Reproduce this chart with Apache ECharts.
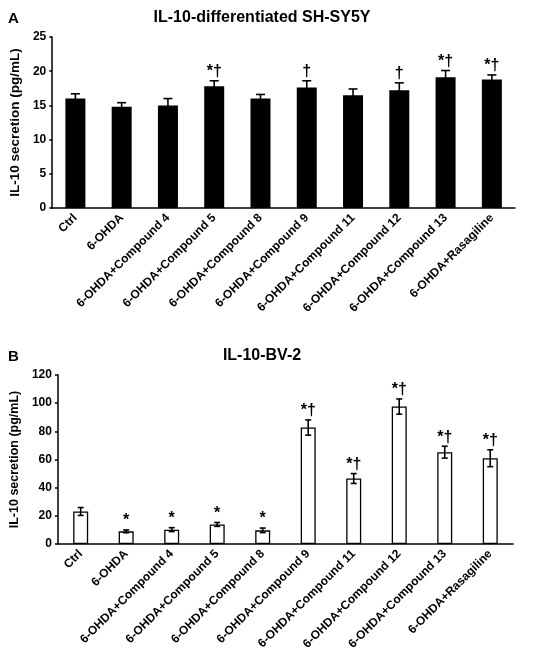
<!DOCTYPE html>
<html>
<head>
<meta charset="utf-8">
<script src="https://cdn.jsdelivr.net/npm/echarts@6/dist/echarts.min.js"></script>
<style>
  html, body { margin: 0; padding: 0; background: #fff; }
  #chart { width: 550px; height: 668px; }
</style>
</head>
<body>
<div id="chart"></div>
<script>
// groups, same for both panels
const groups = ['Ctrl', '6-OHDA', '6-OHDA+Compound 4', '6-OHDA+Compound 5', '6-OHDA+Compound 8',
  '6-OHDA+Compound 9', '6-OHDA+Compound 11', '6-OHDA+Compound 12', '6-OHDA+Compound 13', '6-OHDA+Rasagiline'];

// panel A: IL-10 in differentiated SH-SY5Y
const shsy5y_mean = [16.0, 14.8, 15.0, 17.8, 16.0, 17.6, 16.5, 17.2, 19.1, 18.8];
const shsy5y_err  = [0.7, 0.6, 1.0, 0.8, 0.6, 1.0, 0.9, 1.1, 1.0, 0.65];
const shsy5y_sig  = ['', '', '', '*†', '', '†', '', '†', '*†', '*†'];
const shsy5y_ticks = [0, 5, 10, 15, 20, 25];

// panel B: IL-10 in BV-2
const bv2_mean = [23.1, 9.0, 10.2, 13.9, 9.7, 82.7, 46.5, 97.6, 65.2, 60.9];
const bv2_err  = [2.8, 1.0, 1.4, 1.4, 1.6, 5.4, 3.5, 5.4, 4.2, 6.0];
const bv2_sig  = ['', '*', '*', '*', '*', '*†', '*†', '*†', '*†', '*†'];
const bv2_ticks = [0, 20, 40, 60, 80, 100, 120];

const FONT = 'Liberation Sans';

let chart = echarts.init(document.getElementById('chart'));

function error_series(gridIdx, mean, err, sig, cap){
  return {
    type: 'custom',
    xAxisIndex: gridIdx,
    yAxisIndex: gridIdx,
    z: 5,
    data: mean.map((m, i) => [i, m, err[i]]),
    renderItem: function(params, api){
      let x = api.coord([api.value(0), 0])[0];
      let top = api.coord([api.value(0), api.value(1) + api.value(2)])[1];
      let bot = api.coord([api.value(0), api.value(1) - api.value(2)])[1];
      let style = { stroke: '#000', lineWidth: 1.6 };
      let kids = [
        { type: 'line', shape: { x1: x, y1: top, x2: x, y2: bot }, style },
        { type: 'line', shape: { x1: x - cap, y1: top, x2: x + cap, y2: top }, style },
        { type: 'line', shape: { x1: x - cap, y1: bot, x2: x + cap, y2: bot }, style }
      ];
      let txt = sig[params.dataIndex];
      if(txt){
        kids.push({
          type: 'text',
          style: { text: txt, x: x, y: top - 1, align: 'center', verticalAlign: 'bottom',
            font: 'bold 16px "' + FONT + '"', fill: '#000' }
        });
      }
      return { type: 'group', children: kids };
    }
  };
}

function y_axis(gridIdx, ticks){
  return {
    type: 'value',
    gridIndex: gridIdx,
    min: ticks[0],
    max: ticks[ticks.length - 1],
    interval: ticks[1] - ticks[0],
    name: 'IL-10 secretion (pg/mL)',
    nameLocation: 'middle',
    nameGap: gridIdx == 0 ? 27 : 33,
    nameTextStyle: { fontFamily: FONT, fontWeight: 'bold', fontSize: gridIdx == 0 ? 13.5 : 12.5, color: '#000' },
    axisLine: { show: true, lineStyle: { color: '#000', width: 1.5 } },
    axisTick: { show: true, length: 3, lineStyle: { color: '#000', width: 1.5 } },
    axisLabel: { fontFamily: FONT, fontWeight: 'bold', fontSize: 12, color: '#000', margin: 6 },
    splitLine: { show: false }
  };
}

function x_axis(gridIdx){
  return {
    type: 'category',
    gridIndex: gridIdx,
    data: groups,
    axisLine: { lineStyle: { color: '#000', width: 1.5 } },
    axisTick: { show: false },
    axisLabel: { interval: 0, rotate: 45, fontFamily: FONT, fontWeight: 'bold', fontSize: 12, color: '#000', margin: 8 }
  };
}

let options = {
  animation: false,
  backgroundColor: '#fff',
  title: [
    { text: 'A', left: 3, top: 6, textStyle: { fontFamily: FONT, fontWeight: 'bold', fontSize: 15, color: '#000' } },
    { text: 'IL-10-differentiated SH-SY5Y', left: 257, textAlign: 'center', top: 5,
      textStyle: { fontFamily: FONT, fontWeight: 'bold', fontSize: 16, color: '#000' } },
    { text: 'B', left: 3, top: 344, textStyle: { fontFamily: FONT, fontWeight: 'bold', fontSize: 15, color: '#000' } },
    { text: 'IL-10-BV-2', left: 257, textAlign: 'center', top: 343,
      textStyle: { fontFamily: FONT, fontWeight: 'bold', fontSize: 16, color: '#000' } }
  ],
  grid: [
    { left: 45, right: 35, top: 37, height: 171 },
    { left: 51, right: 37, top: 375, height: 169 }
  ],
  xAxis: [x_axis(0), x_axis(1)],
  yAxis: [y_axis(0, shsy5y_ticks), y_axis(1, bv2_ticks)],
  series: [
    {
      type: 'bar', xAxisIndex: 0, yAxisIndex: 0, barWidth: 20,
      data: shsy5y_mean,
      itemStyle: { color: '#000' }
    },
    error_series(0, shsy5y_mean, shsy5y_err, shsy5y_sig, 4.5),
    {
      type: 'bar', xAxisIndex: 1, yAxisIndex: 1, barWidth: 15,
      data: bv2_mean,
      itemStyle: { color: '#fff', borderColor: '#000', borderWidth: 1.3 }
    },
    error_series(1, bv2_mean, bv2_err, bv2_sig, 3)
  ]
};
chart.setOption(options);
</script>
</body>
</html>
